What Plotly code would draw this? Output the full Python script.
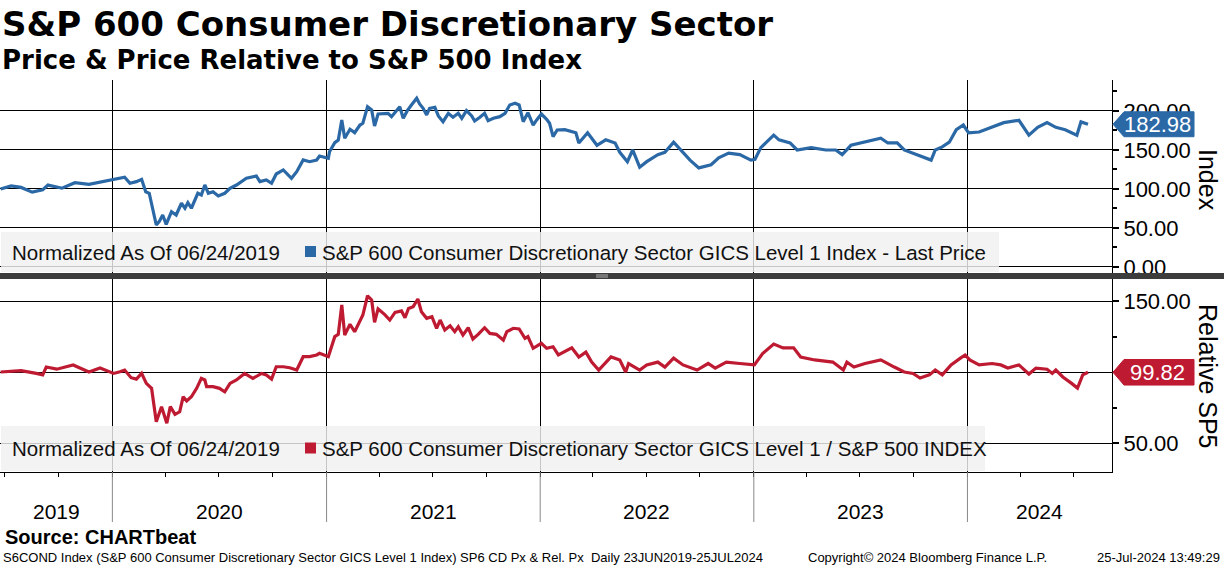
import plotly.graph_objects as go
from datetime import date, timedelta

# ---------------- data ----------------
# S&P 600 Consumer Discretionary, normalized to 100 on 06/24/2019
price_points = [
 ("2019-06-24",100),("2019-07-12",104),("2019-07-29",102),("2019-08-17",96),("2019-09-04",99),
 ("2019-09-13",105),("2019-10-07",101),("2019-10-29",108),("2019-11-22",106),("2019-12-18",110),
 ("2020-01-14",113.7),("2020-01-22",115),("2020-01-31",107.3),("2020-02-11",109.4),("2020-02-20",112.4),
 ("2020-02-27",96.5),("2020-03-04",94.5),("2020-03-11",73.1),("2020-03-16",53.8),("2020-03-21",58.1),
 ("2020-03-27",66.7),("2020-04-02",54.7),("2020-04-11",70.9),("2020-04-19",66.7),("2020-04-28",81.7),
 ("2020-05-04",75.3),("2020-05-09",82.4),("2020-05-15",75.3),("2020-05-26",94.5),("2020-06-01",92.3),
 ("2020-06-07",105.1),("2020-06-13",94.5),("2020-06-21",96.5),("2020-06-30",91),("2020-07-11",94.5),
 ("2020-07-20",100.9),("2020-07-31",105.1),("2020-08-17",113.7),("2020-09-03",116.7),("2020-09-09",109.4),
 ("2020-09-20",111.5),("2020-09-29",107.3),("2020-10-07",119.2),("2020-10-19",124.4),("2020-11-02",113.7),
 ("2020-11-11",122.2),("2020-11-22",137.2),("2020-12-03",135),("2020-12-15",137.2),("2020-12-20",142.3),
 ("2021-01-04",139.4),("2021-01-06",147.8),("2021-01-15",159.4),("2021-01-21",162.8),("2021-01-27",188.5),
 ("2021-02-01",165),("2021-02-10",176.5),("2021-02-18",172.2),("2021-02-27",182),("2021-03-04",184.2),
 ("2021-03-12",205.5),("2021-03-19",201.3),("2021-03-24",180.8),("2021-03-30",196.1),("2021-04-16",197),
 ("2021-04-22",192.7),("2021-05-06",205.5),("2021-05-12",190.6),("2021-05-19",200.4),("2021-05-26",207.7),
 ("2021-06-04",216.3),("2021-06-09",209),("2021-06-15",203.4),("2021-06-21",194.9),("2021-06-26",203.4),
 ("2021-07-05",204.7),("2021-07-11",193.6),("2021-07-19",186.3),("2021-07-28",197),("2021-08-05",191.9),
 ("2021-08-14",197),("2021-08-20",190.6),("2021-08-28",200.4),("2021-09-06",193.6),("2021-09-11",187.2),
 ("2021-09-20",191.9),("2021-09-28",197),("2021-10-04",187.6),("2021-10-13",190.6),("2021-10-24",192.7),
 ("2021-11-02",197),("2021-11-10",207.7),("2021-11-19",209.9),("2021-11-26",207.7),("2021-12-03",186.3),
 ("2021-12-11",197.8),("2021-12-20",182),("2021-12-26",188.5),("2022-01-03",196.1),("2022-01-12",189.4),
 ("2022-01-17",184.2),("2022-01-23",167),("2022-01-30",175.6),("2022-02-12",176),("2022-03-03",172),
 ("2022-03-08",159),("2022-03-23",172),("2022-04-08",156),("2022-04-23",163),("2022-05-09",159),
 ("2022-05-17",147),("2022-05-30",135),("2022-06-08",150),("2022-06-20",128),("2022-07-02",135),
 ("2022-07-21",144),("2022-08-02",147),("2022-08-17",160),("2022-09-02",146),("2022-09-14",137),
 ("2022-09-29",127),("2022-10-20",131),("2022-11-02",140),("2022-11-19",146),("2022-12-08",144),
 ("2022-12-27",137),("2023-01-03",138),("2023-01-13",153),("2023-02-04",169),("2023-02-13",163),
 ("2023-03-04",159),("2023-03-16",150),("2023-04-09",153),("2023-05-04",150),("2023-05-21",150),
 ("2023-06-01",144),("2023-06-16",156),("2023-07-03",159),("2023-07-22",163),("2023-08-06",165),
 ("2023-08-18",159),("2023-09-03",159),("2023-09-15",150),("2023-09-30",146),("2023-10-15",141),
 ("2023-10-31",137),("2023-11-07",150),("2023-11-19",154),("2023-12-01",160),("2023-12-13",176),
 ("2023-12-25",182),("2024-01-03",172),("2024-01-21",173),("2024-02-12",179),("2024-03-03",185),
 ("2024-03-29",188),("2024-04-15",169),("2024-04-30",179),("2024-05-16",185),("2024-05-31",179),
 ("2024-06-16",176),("2024-07-06",169),("2024-07-13",186),("2024-07-25",182.98)]

# Relative to S&P 500, normalized to 100 on 06/24/2019
rel_points = [
 ("2019-06-24",100),("2019-07-12",100.7),("2019-07-29",101),("2019-08-24",99),("2019-09-04",98),
 ("2019-09-10",103.5),("2019-09-28",102),("2019-10-26",105),("2019-11-22",100),("2019-12-11",102.8),
 ("2020-01-03",99),("2020-01-14",100.2),("2020-01-22",101.4),("2020-02-02",96),("2020-02-11",95),
 ("2020-02-20",99),("2020-02-28",92),("2020-03-08",88.5),("2020-03-16",65),("2020-03-25",75.6),
 ("2020-03-29",70.9),("2020-04-03",63.9),("2020-04-09",75.6),("2020-04-17",70.2),("2020-04-25",72),
 ("2020-05-01",82.6),("2020-05-07",79.6),("2020-05-15",82.6),("2020-05-24",88.5),("2020-06-01",95.5),
 ("2020-06-07",94.4),("2020-06-10",89.7),("2020-06-21",89.7),("2020-07-02",88.5),("2020-07-11",86.1),
 ("2020-07-20",92),("2020-07-31",94.4),("2020-08-14",99),("2020-08-28",95.5),("2020-09-12",99),
 ("2020-09-20",97.9),("2020-09-29",95),("2020-10-07",103.7),("2020-10-19",103.7),("2020-10-30",103),
 ("2020-11-11",101.4),("2020-11-22",110.8),("2020-12-03",110.8),("2020-12-15",112),("2020-12-20",113.2),
 ("2021-01-04",110.8),("2021-01-09",117.8),("2021-01-15",124.9),("2021-01-21",126.5),("2021-01-27",147.2),
 ("2021-02-01",126),("2021-02-10",133.6),("2021-02-18",128.4),("2021-02-27",136.6),("2021-03-04",140.1),
 ("2021-03-12",153.7),("2021-03-19",150.7),("2021-03-24",135),("2021-03-30",144.4),("2021-04-10",140.6),
 ("2021-04-19",136.6),("2021-04-28",142),("2021-05-09",143),("2021-05-15",138.2),("2021-05-21",144.8),
 ("2021-05-29",146),("2021-06-06",151.4),("2021-06-12",142.5),("2021-06-21",137.8),("2021-06-30",139),
 ("2021-07-08",130.8),("2021-07-14",136.6),("2021-07-22",129.6),("2021-07-31",132.6),("2021-08-08",128.4),
 ("2021-08-14",131.9),("2021-08-22",126),("2021-08-31",131.2),("2021-09-08",123.2),("2021-09-17",126.5),
 ("2021-09-28",131.2),("2021-10-07",127.2),("2021-10-18",126.5),("2021-10-30",122.5),("2021-11-05",128.4),
 ("2021-11-16",130.8),("2021-11-26",130.3),("2021-12-06",123.7),("2021-12-11",124.9),("2021-12-20",116.7),
 ("2022-01-03",120.2),("2022-01-12",116.7),("2022-01-23",117.8),("2022-02-01",112),("2022-02-24",117),
 ("2022-03-08",110.6),("2022-03-20",114),("2022-03-30",107),("2022-04-11",101.4),("2022-05-02",110.6),
 ("2022-05-17",108.5),("2022-05-27",100),("2022-06-01",106),("2022-06-20",101.4),("2022-07-02",105),
 ("2022-07-21",107),("2022-08-02",103.5),("2022-08-17",109.8),("2022-09-02",105),("2022-09-26",101.4),
 ("2022-10-15",106),("2022-10-27",102.8),("2022-11-15",107),("2022-12-08",106),("2023-01-02",105),
 ("2023-01-16",113),("2023-02-04",119.7),("2023-02-20",117),("2023-03-10",117),("2023-03-22",110.6),
 ("2023-04-15",108.5),("2023-05-16",107),("2023-06-03",101.4),("2023-06-09",107),("2023-06-21",103.5),
 ("2023-07-10",106),("2023-08-06",108.5),("2023-08-29",103.5),("2023-09-15",100),("2023-09-30",99),
 ("2023-10-12",95.8),("2023-10-28",98),("2023-11-07",101.4),("2023-11-19",98),("2023-12-04",105),
 ("2023-12-20",109.8),("2023-12-28",112),("2024-01-05",108.5),("2024-01-21",105),("2024-02-12",106),
 ("2024-02-27",105),("2024-03-10",102.8),("2024-03-29",105),("2024-04-15",98.6),("2024-04-27",102.8),
 ("2024-05-16",102),("2024-05-25",99),("2024-05-31",101.4),("2024-06-12",96.5),("2024-06-27",92),
 ("2024-07-07",88.7),("2024-07-16",98),("2024-07-25",99.82)]

price_dates = [d for d, v in price_points]
price_vals = [v for d, v in price_points]
rel_dates = [d for d, v in rel_points]
rel_vals = [v for d, v in rel_points]

year_labels = ["2019", "2020", "2021", "2022", "2023", "2024"]
top_ticks = [0, 50, 100, 150, 200]
bottom_ticks = [50, 100, 150]
x_start, x_end = "2019-06-23", "2024-09-04"

title = "S&P 600 Consumer Discretionary Sector"
subtitle = "Price & Price Relative to S&P 500 Index"
top_series_name = "S&P 600 Consumer Discretionary Sector GICS Level 1 Index - Last Price"
bottom_series_name = "S&P 600 Consumer Discretionary Sector GICS Level 1 / S&P 500 INDEX"
norm_text = "Normalized As Of 06/24/2019"
source_text = "Source: CHARTbeat"
footer_left = "S6COND Index (S&P 600 Consumer Discretionary Sector GICS Level 1 Index) SP6 CD Px & Rel. Px  Daily 23JUN2019-25JUL2024"
footer_mid = "Copyright\u00a9 2024 Bloomberg Finance L.P."
footer_right = "25-Jul-2024 13:49:29"

# ---------------- style ----------------
BLUE = "#2b68a6"
RED = "#be1a32"
W, H = 1224, 566
ML, MR, MT, MB = 0, 112, 80, 94
PW = W - ML - MR
PH = H - MT - MB

def py(px):  # pixel y -> paper y
    return (H - MB - px) / PH

def pxx(px):  # pixel x -> paper x
    return (px - ML) / PW

TOP_RANGE = [-7.7, 239.7]
BOT_RANGE = [29.6, 166.2]
FONT = "Liberation Sans"

# tick labels; a label fully hidden under the last-value tag is left blank
def tick_text(ticks, last, half):
    return ["" if abs(t - last) < half * 0.6 else "%.2f" % t for t in ticks]

fig = go.Figure()
fig.add_trace(go.Scatter(x=price_dates, y=price_vals, mode="lines",
                         line=dict(color=BLUE, width=3.2), xaxis="x", yaxis="y",
                         showlegend=False, hoverinfo="skip"))
fig.add_trace(go.Scatter(x=rel_dates, y=rel_vals, mode="lines",
                         line=dict(color=RED, width=3.2), xaxis="x2", yaxis="y2",
                         showlegend=False, hoverinfo="skip"))

year_starts = ["%d-01-01" % int(y) for y in year_labels[1:]]

axis_common = dict(range=[x_start, x_end], type="date", showgrid=True, gridcolor="black",
                   gridwidth=1, tickmode="array", tickvals=year_starts, showticklabels=False,
                   zeroline=False)
yaxis_common = dict(side="right",
                    showgrid=True, gridcolor="black", gridwidth=1, zeroline=False,
                    showline=True, linecolor="black", linewidth=1,
                    ticks="outside", ticklen=6, tickwidth=2, tickcolor="black",
                    tickfont=dict(size=22, family=FONT),
                    minor=dict(ticks="outside", ticklen=4, tickcolor="black", dtick=25, tick0=0,
                               showgrid=False))
TOP_HALF, BOT_HALF = 16, 9.0
fig.update_layout(
    width=W, height=H,
    margin=dict(l=ML, r=MR, t=MT, b=MB),
    paper_bgcolor="white", plot_bgcolor="white",
    font=dict(family=FONT, color="black"),
    xaxis=dict(**axis_common, domain=[0, 1], anchor="y", ticks=""),
    xaxis2=dict(**axis_common, domain=[0, 1], anchor="y2", ticks="",
                showline=True, linecolor="black", linewidth=1,
                minor=dict(ticks="outside", ticklen=4, tickcolor="black", dtick="M3",
                           tick0="2019-01-01", showgrid=False)),
    yaxis=dict(**yaxis_common, domain=[py(273), 1], anchor="x", range=TOP_RANGE,
               tickmode="array", tickvals=top_ticks,
               ticktext=tick_text(top_ticks, price_vals[-1], TOP_HALF)),
    yaxis2=dict(**yaxis_common, domain=[0, py(278)], anchor="x2", range=BOT_RANGE,
                tickmode="array", tickvals=bottom_ticks,
                ticktext=tick_text(bottom_ticks, rel_vals[-1], BOT_HALF)),
)

shapes = []
annotations = []

# separator band between panels
shapes.append(dict(type="rect", xref="paper", yref="paper", x0=pxx(0), x1=pxx(W),
                   y0=py(279), y1=py(273), fillcolor="#3c3c3c", line=dict(width=0), layer="above"))
for yy in (275, 277):
    shapes.append(dict(type="line", xref="paper", yref="paper", x0=pxx(596), x1=pxx(608),
                       y0=py(yy), y1=py(yy), line=dict(color="#b0b0b0", width=1), layer="above"))

# year separators below axis
for ys in year_starts:
    shapes.append(dict(type="line", xref="x2", yref="paper", x0=ys, x1=ys,
                       y0=0, y1=py(522), line=dict(color="#888888", width=1)))

# year labels centred in visible part of each year
d0 = date.fromisoformat(x_start)
d1 = date.fromisoformat(x_end)
for lab in year_labels:
    a = max(date(int(lab), 1, 1), d0)
    b = min(date(int(lab) + 1, 1, 1), d1)
    mid = a + timedelta(days=(b - a).days / 2)
    annotations.append(dict(x=mid.isoformat(), y=py(511), xref="x2", yref="paper",
                            text=lab, showarrow=False, font=dict(size=21, family=FONT),
                            xanchor="center", yanchor="middle"))

# legend boxes
def legend(ytop, ybot, xright, color, name):
    shapes.append(dict(type="rect", xref="paper", yref="paper", x0=pxx(1), x1=pxx(xright),
                       y0=py(ybot), y1=py(ytop), fillcolor="rgba(240,240,240,0.82)",
                       line=dict(width=0), layer="above"))
    yc = (ytop + ybot) / 2
    annotations.append(dict(x=pxx(10), y=py(yc), xref="paper", yref="paper", text=norm_text,
                            showarrow=False, xanchor="left", yanchor="middle",
                            font=dict(size=20.5, family=FONT, color="#111")))
    shapes.append(dict(type="rect", xref="paper", yref="paper", x0=pxx(305), x1=pxx(316),
                       y0=py(yc + 5), y1=py(yc - 6), fillcolor=color, line=dict(width=0),
                       layer="above"))
    annotations.append(dict(x=pxx(320), y=py(yc), xref="paper", yref="paper", text=name,
                            showarrow=False, xanchor="left", yanchor="middle",
                            font=dict(size=20.5, family=FONT, color="#111")))

legend(232, 272, 999, BLUE, top_series_name)
legend(426, 471, 985, RED, bottom_series_name)

# last value tags
def tag(value, yref, half, color):
    xa, xb, xc = pxx(1113), pxx(1124), pxx(1194)
    path = "M {a},{v} L {b},{t} L {c},{t} L {c},{bt} L {b},{bt} Z".format(
        a=xa, b=xb, c=xc, v=value, t=value + half, bt=value - half)
    shapes.append(dict(type="path", xref="paper", yref=yref, path=path,
                       fillcolor=color, line=dict(color=color, width=1), layer="above"))
    annotations.append(dict(x=(xb + xc) / 2 - 0.001, y=value, xref="paper", yref=yref,
                            text="%.2f" % value, showarrow=False, xanchor="center",
                            yanchor="middle", font=dict(size=22, family=FONT, color="white")))

tag(price_vals[-1], "y", TOP_HALF, BLUE)
tag(rel_vals[-1], "y2", BOT_HALF, RED)

# axis titles (rotated clockwise)
annotations.append(dict(x=pxx(1208), y=py(180), xref="paper", yref="paper", text="Index",
                        textangle=90, showarrow=False, xanchor="center", yanchor="middle",
                        font=dict(size=25, family=FONT)))
annotations.append(dict(x=pxx(1208), y=py(376), xref="paper", yref="paper", text="Relative SP5",
                        textangle=90, showarrow=False, xanchor="center", yanchor="middle",
                        font=dict(size=25, family=FONT)))

# titles
annotations.append(dict(x=pxx(0), y=py(24), xref="paper", yref="paper", text="<b>%s</b>" % title,
                        showarrow=False, xanchor="left", yanchor="middle",
                        font=dict(size=34, family="DejaVu Sans", color="black")))
annotations.append(dict(x=pxx(0), y=py(60), xref="paper", yref="paper", text="<b>%s</b>" % subtitle,
                        showarrow=False, xanchor="left", yanchor="middle",
                        font=dict(size=26, family="DejaVu Sans", color="black")))

# footer
annotations.append(dict(x=pxx(3), y=py(537), xref="paper", yref="paper", text="<b>%s</b>" % source_text,
                        showarrow=False, xanchor="left", yanchor="middle",
                        font=dict(size=20, family=FONT, color="black")))
annotations.append(dict(x=pxx(1), y=py(557), xref="paper", yref="paper", text=footer_left,
                        showarrow=False, xanchor="left", yanchor="middle",
                        font=dict(size=13, family=FONT, color="black")))
annotations.append(dict(x=pxx(806), y=py(557), xref="paper", yref="paper", text=footer_mid,
                        showarrow=False, xanchor="left", yanchor="middle",
                        font=dict(size=13, family=FONT, color="black")))
annotations.append(dict(x=pxx(1222), y=py(557), xref="paper", yref="paper", text=footer_right,
                        showarrow=False, xanchor="right", yanchor="middle",
                        font=dict(size=13, family=FONT, color="black")))

fig.update_layout(shapes=shapes, annotations=annotations)
fig.write_html("out.html", config={"displayModeBar": False},
               post_script="document.body.style.margin='0px';document.body.style.padding='0px';")
